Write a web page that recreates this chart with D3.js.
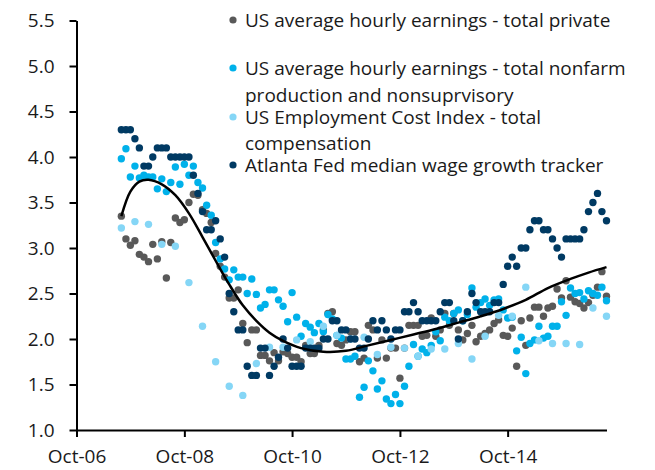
<!DOCTYPE html>
<html>
<head>
<meta charset="utf-8">
<script src="https://cdn.jsdelivr.net/npm/d3@7.9.0/dist/d3.min.js"></script>
<style>
  body { margin: 0; background: #fff; }
  svg text { font-family: "Open Sans", "Noto Sans", sans-serif; fill: #1a1a1a; }
</style>
</head>
<body>
<svg id="chart" width="655" height="470"></svg>
<script>
// monthly series start Aug-07, last point Aug-16
const firstMonth = new Date(2007, 7, 1);

const ahePrivate = [
  3.35, 3.10, 3.03, 3.08, 2.93, 2.90, 2.85, 3.04, 2.88, 3.07,
  2.67, 3.06, 3.33, 3.28, 3.31, 3.50, 3.59, 3.58, 3.42, 3.38,
  3.28, 2.94, 2.80, 2.68, 2.45, 2.45, 2.54, 2.17, 1.96, 2.10,
  2.10, 1.82, 1.82, 1.76, 1.85, 1.76, 1.86, 1.84, 1.80, 1.80,
  1.75, 1.93, 1.84, 1.84, 1.93, 2.10, 2.28, 2.30, 1.95, 1.93,
  1.99, 2.08, 2.08, 1.75, 1.79, 2.15, 2.10, 1.79, 1.99, 1.79,
  1.90, 1.90, 1.57, 1.90, 2.15, 2.15, 2.15, 2.03, 2.04, 2.23,
  2.03, 2.10, 2.28, 2.15, 2.28, 2.10, 1.99, 2.06, 2.15, 1.97,
  2.03, 2.06, 2.10, 2.17, 2.21, 2.04, 2.03, 2.12, 1.70, 2.20,
  1.93, 2.23, 2.35, 2.35, 2.25, 2.34, 2.36, 2.55, 2.45, 2.64,
  2.46, 2.41, 2.39, 2.34, 2.40, 2.48, 2.57, 2.74, 2.47
];

const aheProduction = [
  3.98, 4.09, 3.78, 3.90, 3.77, 3.80, 3.78, 3.78, 3.65, 3.76,
  3.62, 3.72, 3.89, 3.70, 3.92, 3.80, 3.90, 3.72, 3.66, 3.47,
  3.36, 3.06, 2.88, 2.77, 2.65, 2.76, 2.68, 2.68, 2.50, 2.66,
  2.49, 2.34, 2.38, 2.54, 2.54, 2.43, 2.36, 2.19, 2.51, 2.24,
  2.03, 2.17, 2.13, 2.07, 2.17, 2.08, 2.27, 2.22, 2.04, 2.01,
  1.78, 1.78, 1.81, 1.36, 1.47, 1.76, 1.65, 1.45, 1.54, 1.34,
  1.29, 1.39, 1.29, 1.48, 1.70, 1.94, 1.81, 1.89, 1.85, 1.93,
  2.08, 1.98, 2.24, 2.20, 2.28, 2.32, 2.20, 2.27, 2.56, 2.35,
  2.40, 2.44, 2.37, 2.43, 2.44, 2.32, 2.23, 2.24, 1.87, 2.02,
  1.62, 1.95, 1.99, 2.14, 2.01, 2.03, 2.14, 2.14, 2.41, 2.26,
  2.56, 2.50, 2.51, 2.44, 2.53, 2.50, 2.48, 2.57, 2.42
];

const atlantaFed = [
  4.3, 4.3, 4.3, 4.2, 4.1, 3.9, 3.9, 4.0, 4.1, 4.1,
  4.1, 4.0, 4.0, 4.0, 4.0, 4.0, 3.8, 3.6, 3.4, 3.2,
  3.2, 3.3, 3.1, 2.9, 2.5, 2.3, 2.1, 2.1, 1.7, 1.6,
  1.6, 1.9, 1.9, 1.6, 1.7, 1.8, 2.0, 1.9, 1.7, 1.7,
  1.7, 1.9, 1.9, 1.9, 1.9, 2.0, 2.0, 2.2, 2.2, 2.1,
  2.1, 2.0, 2.0, 1.9, 1.9, 2.0, 2.2, 2.1, 2.2, 2.1,
  2.0, 2.1, 2.1, 2.3, 2.3, 2.4, 2.3, 2.2, 2.2, 2.2,
  2.2, 2.3, 2.4, 2.4, 2.2, 2.0, 2.2, 2.3, 2.5, 2.4,
  2.3, 2.3, 2.3, 2.4, 2.4, 2.6, 2.8, 2.9, 2.8, 3.0,
  3.0, 3.2, 3.3, 3.3, 3.2, 3.2, 3.1, 3.0, 2.9, 3.1,
  3.1, 3.1, 3.1, 3.2, 3.4, 3.5, 3.6, 3.4, 3.3
];

// quarterly, same start
const eciTotal = [
  3.22, 3.29, 3.26, 3.04, 3.02, 2.62, 2.14, 1.75, 1.48, 1.38,
  1.73, 1.91, 1.91, 1.99, 1.97, 2.14, 2.04, 2.00, 2.02, 1.83,
  1.91, 1.90, 1.81, 1.89, 1.89, 1.95, 1.78, 2.03, 2.26, 2.25,
  2.57, 1.98, 1.95, 1.95, 1.94, 2.34, 2.25
];

// smooth trend line, months after Aug-07
const trendMonths = [0, 2, 4, 6, 9, 12, 15, 18, 21, 24, 27, 30, 33, 36, 40, 45, 50, 55, 60, 65, 70, 75, 80, 85, 90, 95, 100, 104, 108];
const trendValues = [3.35, 3.62, 3.73, 3.75, 3.70, 3.58, 3.38, 3.12, 2.86, 2.60, 2.37, 2.20, 2.07, 1.98, 1.90, 1.86, 1.87, 1.93, 1.99, 2.05, 2.11, 2.18, 2.25, 2.33, 2.43, 2.56, 2.66, 2.73, 2.79];

const yTicks = [1.0, 1.5, 2.0, 2.5, 3.0, 3.5, 4.0, 4.5, 5.0, 5.5];
const xTickYears = [2006, 2008, 2010, 2012, 2014];

const seriesNames = [
  ["US average hourly earnings - total private"],
  ["US average hourly earnings - total nonfarm", "production and nonsuprvisory"],
  ["US Employment Cost Index - total", "compensation"],
  ["Atlanta Fed median wage growth tracker"]
];
const seriesColors = ["#595959", "#00b1ea", "#85d6f6", "#003a63"];

const svg = d3.select("#chart");
const plotLeft = 76.5, plotRight = 606.5, plotTop = 20.5, plotBottom = 430;

const x = d3.scaleTime()
  .domain([new Date(2006, 9, 1), new Date(2016, 7, 1)])
  .range([plotLeft, plotRight]);
const y = d3.scaleLinear().domain([1, 5.5]).range([plotBottom, plotTop]);

const monthly = arr => arr.map((v, i) => ({ date: d3.timeMonth.offset(firstMonth, i), value: v }));
const quarterly = arr => arr.map((v, i) => ({ date: d3.timeMonth.offset(firstMonth, i * 3), value: v }));

const allSeries = [monthly(ahePrivate), monthly(aheProduction), quarterly(eciTotal), monthly(atlantaFed)];

// axes
const xAxis = d3.axisBottom(x)
  .tickValues(xTickYears.map(yr => new Date(yr, 9, 1)))
  .tickFormat(d3.timeFormat("%b-%y"))
  .tickSizeInner(7).tickSizeOuter(0).tickPadding(13);
const yAxis = d3.axisLeft(y)
  .tickValues(yTicks)
  .tickFormat(d3.format(".1f"))
  .tickSizeInner(7).tickSizeOuter(0).tickPadding(15);

const gx = svg.append("g").attr("transform", `translate(0,${plotBottom})`).call(xAxis);
const gy = svg.append("g").attr("transform", `translate(${plotLeft},0)`).call(yAxis);
[gx, gy].forEach(g => {
  g.select(".domain").attr("stroke", "#000").attr("stroke-width", 2);
  g.selectAll(".tick line").attr("stroke", "#000").attr("stroke-width", 2);
  g.selectAll(".tick text").attr("font-size", 19).attr("fill", "#1a1a1a")
    .attr("font-family", "'Open Sans', sans-serif");
});

// dots
allSeries.forEach((data, i) => {
  svg.append("g")
    .selectAll("circle")
    .data(data)
    .enter()
    .append("circle")
    .attr("cx", d => x(d.date))
    .attr("cy", d => y(d.value))
    .attr("r", 3.7)
    .attr("fill", seriesColors[i]);
});

// trend
const line = d3.line()
  .x(d => x(d3.timeMonth.offset(firstMonth, d[0])))
  .y(d => y(d[1]))
  .curve(d3.curveCatmullRom.alpha(0.5));
svg.append("path")
  .datum(d3.zip(trendMonths, trendValues))
  .attr("d", line)
  .attr("fill", "none")
  .attr("stroke", "#000")
  .attr("stroke-width", 2.5);

// legend (row spacing follows the original, which is uneven)
const legendRows = [20, 68, 117, 165];
const legendLineGap = [0, 27, 26, 0];
const legend = svg.append("g");
seriesNames.forEach((lines, i) => {
  const g = legend.append("g").attr("transform", `translate(233,${legendRows[i]})`);
  g.append("circle").attr("r", 3.6).attr("fill", seriesColors[i]);
  lines.forEach((t, j) => {
    g.append("text")
      .attr("x", 12)
      .attr("y", j * legendLineGap[i])
      .attr("dy", "0.35em")
      .attr("font-size", 19)
      .text(t);
  });
});
</script>
</body>
</html>
